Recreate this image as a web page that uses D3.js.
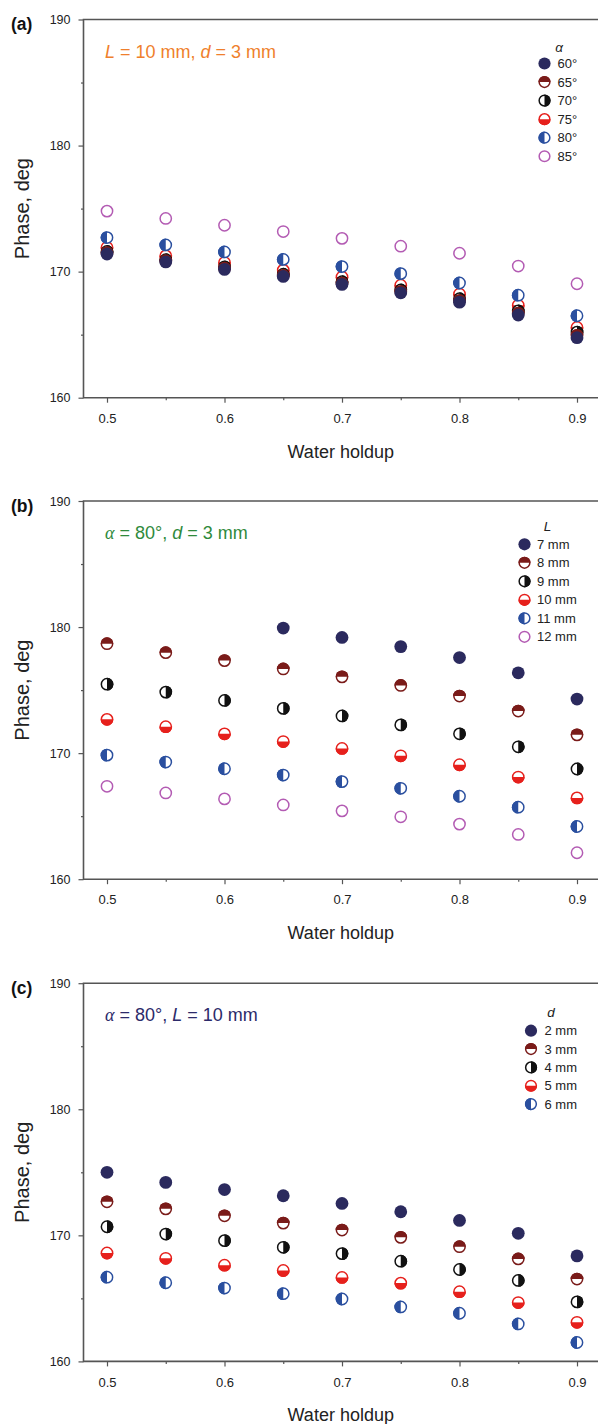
<!DOCTYPE html>
<html>
<head>
<meta charset="utf-8">
<script src="https://cdn.jsdelivr.net/npm/d3@7"></script>
<style>
  html, body { margin: 0; padding: 0; background: #fff; }
  svg { display: block; }
  text { font-family: "Liberation Sans", Arial, Helvetica, sans-serif; }
</style>
</head>
<body>
<svg id="chart" width="598" height="1424"></svg>
<script>
// Water holdup values shared by all three panels
const holdup = [0.5, 0.55, 0.6, 0.65, 0.7, 0.75, 0.8, 0.85, 0.9];
const xMajorTicks = [0.5, 0.6, 0.7, 0.8, 0.9];
const xMinorTicks = [0.55, 0.65, 0.75, 0.85];
const yMajorTicks = [160, 170, 180, 190];
const yMinorTicks = [165, 175, 185];

// (a) phase vs holdup for several inclination angles, L = 10 mm, d = 3 mm
const anglesA = ["60°", "65°", "70°", "75°", "80°", "85°"];
const phaseA60 = [171.40, 170.77, 170.18, 169.62, 168.99, 168.32, 167.58, 166.56, 164.76];
const phaseA65 = [171.50, 170.85, 170.27, 169.70, 169.08, 168.42, 167.70, 166.70, 164.95];
const phaseA70 = [171.60, 170.95, 170.38, 169.80, 169.20, 168.55, 167.85, 166.88, 165.20];
const phaseA75 = [171.92, 171.25, 170.72, 170.12, 169.58, 168.92, 168.22, 167.33, 165.57];
const phaseA80 = [172.70, 172.12, 171.56, 170.97, 170.40, 169.84, 169.10, 168.13, 166.50];
const phaseA85 = [174.80, 174.22, 173.68, 173.18, 172.64, 172.02, 171.46, 170.44, 169.04];

// (b) phase vs holdup for several electrode spacings L, alpha = 80°, d = 3 mm
const spacingsB = ["7 mm", "8 mm", "9 mm", "10 mm", "11 mm", "12 mm"];
const phaseB7  = [null, null, null, 179.92, 179.18, 178.45, 177.58, 176.37, 174.29];
const phaseB8  = [178.68, 177.97, 177.34, 176.68, 176.05, 175.37, 174.53, 173.34, 171.45];
const phaseB9  = [175.47, 174.84, 174.18, 173.55, 172.95, 172.24, 171.53, 170.50, 168.74];
const phaseB10 = [172.68, 172.10, 171.53, 170.92, 170.37, 169.79, 169.08, 168.10, 166.45];
const phaseB11 = [169.84, 169.29, 168.76, 168.26, 167.74, 167.21, 166.58, 165.71, 164.18];
const phaseB12 = [167.37, 166.84, 166.37, 165.89, 165.42, 164.95, 164.37, 163.55, 162.10];

// (c) phase vs holdup for several electrode diameters d, alpha = 80°, L = 10 mm
const diametersC = ["2 mm", "3 mm", "4 mm", "5 mm", "6 mm"];
const phaseC2 = [175.00, 174.20, 173.63, 173.14, 172.53, 171.87, 171.18, 170.16, 168.37];
const phaseC3 = [172.66, 172.10, 171.55, 170.97, 170.42, 169.84, 169.10, 168.13, 166.53];
const phaseC4 = [170.68, 170.10, 169.58, 169.05, 168.55, 167.95, 167.29, 166.42, 164.72];
const phaseC5 = [168.60, 168.18, 167.63, 167.21, 166.66, 166.21, 165.53, 164.67, 163.10];
const phaseC6 = [166.68, 166.24, 165.82, 165.37, 164.95, 164.32, 163.82, 162.97, 161.50];

// Marker styles, in legend order
const markerStyles = [
  { kind: "full",   color: "#2b2a5e" },
  { kind: "top",    color: "#7a1b19" },
  { kind: "right",  color: "#111111" },
  { kind: "bottom", color: "#e6201c" },
  { kind: "left",   color: "#2a4f9f" },
  { kind: "open",   color: "#b35bb3" }
];

const panels = [
  {
    letter: "(a)", top: 19.5,
    series: [phaseA60, phaseA65, phaseA70, phaseA75, phaseA80, phaseA85],
    names: anglesA,
    drawOrder: [5, 3, 4, 2, 1, 0],
    legendTitle: "α", titleSerif: true,
    legend: { tx: 559, ty: 27.5, mx: 544.5, lx: 557.5, y0: 44, dy: 18.55 },
    note: [
      { t: "L", i: true }, { t: " = 10 mm, " }, { t: "d", i: true }, { t: " = 3 mm" }
    ],
    noteColor: "#ef7f2c"
  },
  {
    letter: "(b)", top: 501,
    series: [phaseB7, phaseB8, phaseB9, phaseB10, phaseB11, phaseB12],
    names: spacingsB,
    drawOrder: [5, 4, 3, 2, 1, 0],
    legendTitle: "L", titleSerif: false,
    legend: { tx: 547.5, ty: 25.7, mx: 524.5, lx: 537, y0: 43.3, dy: 18.5 },
    note: [
      { t: "α", i: true, serif: true }, { t: " = 80°, " }, { t: "d", i: true }, { t: " = 3 mm" }
    ],
    noteColor: "#2f8a3c"
  },
  {
    letter: "(c)", top: 983.2,
    series: [phaseC2, phaseC3, phaseC4, phaseC5, phaseC6],
    names: diametersC,
    drawOrder: [4, 3, 2, 1, 0],
    legendTitle: "d", titleSerif: false,
    legend: { tx: 551, ty: 29.7, mx: 531, lx: 544.5, y0: 47.5, dy: 18.35 },
    note: [
      { t: "α", i: true, serif: true }, { t: " = 80°, " }, { t: "L", i: true }, { t: " = 10 mm" }
    ],
    noteColor: "#2c2a6a"
  }
];

const svg = d3.select("#chart");
const plotLeft = 83.5, plotRight = 600.5, plotH = 378.2;
const axisColor = "#555";
const textColor = "#222";
const R = 6.4;

const x = d3.scaleLinear().domain([0.48, 0.92]).range([plotLeft, plotRight]);

function drawMarker(g, style, r) {
  const c = style.color;
  if (style.kind === "full") {
    g.append("circle").attr("r", r).attr("fill", c);
    return;
  }
  g.append("circle").attr("r", r - 0.75).attr("fill", style.kind === "open" ? "none" : "#fff")
    .attr("stroke", c).attr("stroke-width", 1.5);
  let d = null;
  if (style.kind === "top")    d = `M${-r},0A${r},${r} 0 0 1 ${r},0Z`;
  if (style.kind === "bottom") d = `M${-r},0A${r},${r} 0 0 0 ${r},0Z`;
  if (style.kind === "right")  d = `M0,${-r}A${r},${r} 0 0 1 0,${r}Z`;
  if (style.kind === "left")   d = `M0,${-r}A${r},${r} 0 0 0 0,${r}Z`;
  if (d) g.append("path").attr("d", d).attr("fill", c);
}

panels.forEach(p => {
  const y = d3.scaleLinear().domain([160, 190]).range([p.top + plotH, p.top]);
  const g = svg.append("g");
  const yBottom = y(160);

  // major and minor ticks on the y axis
  const yAxis = d3.axisLeft(y).tickValues(yMajorTicks).tickSize(5).tickSizeOuter(0).tickPadding(8);
  const ya = g.append("g").attr("transform", `translate(${plotLeft},0)`).call(yAxis);
  ya.select(".domain").remove();
  ya.selectAll(".tick line").attr("stroke", axisColor).attr("stroke-width", 1.2);
  ya.selectAll(".tick text").attr("font-size", 12.5).attr("fill", textColor)
    .attr("font-family", "Liberation Sans, Arial, sans-serif");
  const yMinor = d3.axisLeft(y).tickValues(yMinorTicks).tickSize(2.5).tickSizeOuter(0).tickFormat("");
  const ym = g.append("g").attr("transform", `translate(${plotLeft},0)`).call(yMinor);
  ym.select(".domain").remove();
  ym.selectAll(".tick line").attr("stroke", axisColor).attr("stroke-width", 1.2);

  // major and minor ticks on the x axis
  const xAxis = d3.axisBottom(x).tickValues(xMajorTicks).tickSize(5).tickSizeOuter(0)
    .tickPadding(11).tickFormat(d3.format(".1f"));
  const xa = g.append("g").attr("transform", `translate(0,${yBottom})`).call(xAxis);
  xa.select(".domain").remove();
  xa.selectAll(".tick line").attr("stroke", axisColor).attr("stroke-width", 1.2);
  xa.selectAll(".tick text").attr("font-size", 13).attr("fill", textColor)
    .attr("font-family", "Liberation Sans, Arial, sans-serif");
  const xMinor = d3.axisBottom(x).tickValues(xMinorTicks).tickSize(2.5).tickSizeOuter(0).tickFormat("");
  const xm = g.append("g").attr("transform", `translate(0,${yBottom})`).call(xMinor);
  xm.select(".domain").remove();
  xm.selectAll(".tick line").attr("stroke", axisColor).attr("stroke-width", 1.2);

  // plot frame: left, bottom and top edges
  g.append("path")
    .attr("d", `M${plotRight},${p.top}H${plotLeft}V${yBottom}H${plotRight}`)
    .attr("fill", "none").attr("stroke", axisColor).attr("stroke-width", 1.6);

  // axis titles
  g.append("text")
    .attr("transform", `translate(29,${(p.top + yBottom) / 2}) rotate(-90)`)
    .attr("text-anchor", "middle").attr("font-size", 20).attr("fill", textColor)
    .text("Phase, deg");
  g.append("text")
    .attr("x", (plotLeft + 598) / 2).attr("y", yBottom + 60)
    .attr("text-anchor", "middle").attr("font-size", 18).attr("fill", textColor)
    .text("Water holdup");

  // panel letter
  g.append("text").attr("x", 11).attr("y", p.top + 10.5)
    .attr("font-size", 17.5).attr("font-weight", "bold").attr("fill", "#111")
    .text(p.letter);

  // condition note
  const note = g.append("text").attr("x", 105).attr("y", p.top + 38)
    .attr("font-size", 18).attr("fill", p.noteColor);
  p.note.forEach(s => {
    const ts = note.append("tspan").text(s.t);
    if (s.i) ts.attr("font-style", "italic");
    if (s.serif) ts.attr("font-family", "Liberation Serif, Times New Roman, serif");
  });

  // data markers
  p.drawOrder.forEach(si => {
    const vals = p.series[si];
    const style = markerStyles[si];
    const pts = holdup.map((h, i) => ({ h, v: vals[i] })).filter(d => d.v != null);
    g.append("g").selectAll("g").data(pts).join("g")
      .attr("transform", d => `translate(${x(d.h)},${y(d.v)})`)
      .each(function () { drawMarker(d3.select(this), style, R); });
  });

  // legend
  const L = p.legend;
  const lt = g.append("text").attr("x", L.tx).attr("y", p.top + L.ty + 4.5)
    .attr("text-anchor", "middle").attr("font-size", 13.5).attr("font-style", "italic")
    .attr("fill", textColor).text(p.legendTitle);
  if (p.titleSerif) lt.attr("font-family", "Liberation Serif, Times New Roman, serif");
  p.names.forEach((name, i) => {
    const cy = p.top + L.y0 + i * L.dy;
    const mg = g.append("g").attr("transform", `translate(${L.mx},${cy})`);
    drawMarker(mg, markerStyles[i], 6.1);
    g.append("text").attr("x", L.lx).attr("y", cy + 4.6)
      .attr("font-size", 13).attr("fill", textColor).text(name);
  });
});
</script>
</body>
</html>
